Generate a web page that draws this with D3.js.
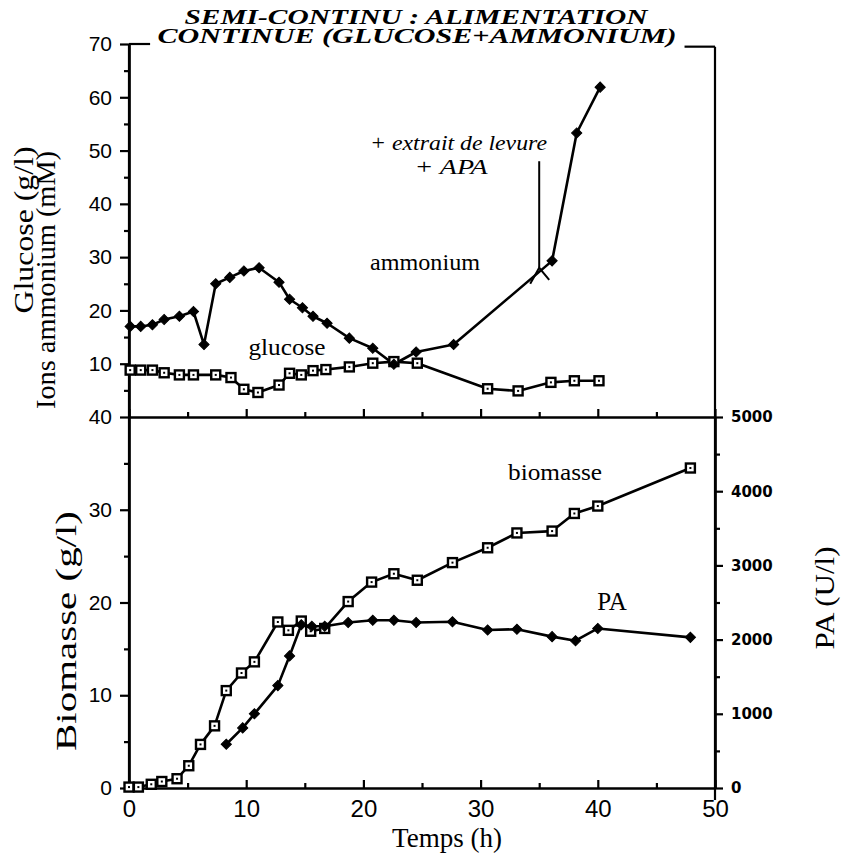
<!DOCTYPE html>
<html>
<head>
<meta charset="utf-8">
<script src="https://cdn.jsdelivr.net/npm/d3@7"></script>
<style>
  html, body { margin: 0; padding: 0; background: #fff; }
  svg { display: block; }
</style>
</head>
<body>
<svg id="chart" width="842" height="861"></svg>
<script>
// ---------------- DATA ----------------
const ammoniumHours = [0.1, 1, 2, 3, 4.3, 5.5, 6.4, 7.4, 8.6, 9.8, 11.1, 12.8, 13.7, 14.8, 15.7, 16.9, 18.8, 20.8, 22.6, 24.5, 27.7, 36.1, 38.2, 40.2];
const ammonium = [17, 17, 17.3, 18.3, 18.9, 19.8, 13.6, 25, 26.2, 27.4, 28, 25.3, 22.1, 20.5, 18.9, 17.6, 14.8, 12.9, 9.9, 12.2, 13.6, 29.3, 53.3, 61.9];

const glucoseHours = [0.1, 1, 2, 3, 4.3, 5.5, 7.4, 8.7, 9.8, 11, 12.8, 13.7, 14.7, 15.7, 16.8, 18.8, 20.8, 22.6, 24.6, 30.6, 33.2, 36, 38, 40.1];
const glucose = [8.8, 8.8, 8.8, 8.3, 7.9, 7.9, 7.9, 7.4, 5.2, 4.6, 6.0, 8.2, 7.9, 8.7, 8.9, 9.4, 10.1, 10.4, 10.1, 5.3, 4.9, 6.5, 6.8, 6.8];

const biomasseHours = [0, 0.8, 1.9, 2.8, 4.1, 5.1, 6.1, 7.3, 8.3, 9.6, 10.7, 12.7, 13.6, 14.7, 15.5, 16.7, 18.7, 20.7, 22.6, 24.6, 27.6, 30.6, 33.1, 36.1, 38, 40, 47.9];
const biomasse = [0.1, 0.1, 0.4, 0.7, 1.0, 2.4, 4.7, 6.7, 10.5, 12.4, 13.6, 17.9, 17.0, 18.0, 16.9, 17.2, 20.1, 22.2, 23.1, 22.4, 24.3, 25.9, 27.5, 27.7, 29.6, 30.4, 34.5];

const paHours = [8.3, 9.7, 10.7, 12.7, 13.7, 14.7, 15.6, 16.7, 18.7, 20.8, 22.6, 24.5, 27.6, 30.6, 33.1, 36.1, 38.1, 40, 47.9];
const pa = [590, 810, 1000, 1380, 1780, 2200, 2180, 2180, 2230, 2260, 2260, 2230, 2240, 2130, 2140, 2040, 1985, 2150, 2030];

const xTicks = [0, 10, 20, 30, 40, 50];
const topTicks = [10, 20, 30, 40, 50, 60, 70];
const bottomTicks = [0, 10, 20, 30, 40];
const paTicks = [0, 1000, 2000, 3000, 4000, 5000];

const titleLines = ["SEMI-CONTINU : ALIMENTATION", "CONTINUE (GLUCOSE+AMMONIUM)"];
const arrowAt = { hour: 35, from: 48, to: 28 };

// ---------------- SCALES ----------------
const svg = d3.select("#chart");
const x = d3.scaleLinear().domain([0, 50]).range([129, 715]);
const yTop = d3.scaleLinear().domain([0, 70]).range([417, 44]);
const yBot = d3.scaleLinear().domain([0, 40]).range([788, 417]);
const yPA = d3.scaleLinear().domain([0, 5000]).range([788, 417]);

const AX = 2.2;
function styleAxis(g, fontSize, family, weight) {
  g.selectAll("path.domain").attr("stroke", "#000").attr("stroke-width", AX);
  g.selectAll(".tick line").attr("stroke", "#000").attr("stroke-width", AX);
  g.selectAll(".tick text").attr("fill", "#000")
    .style("font-family", family).style("font-size", fontSize + "px")
    .style("font-weight", weight || "normal");
  g.attr("font-family", null).attr("font-size", null);
}
const SANS = '"Liberation Sans", Arial, sans-serif';
const SANS_B = '"DejaVu Sans", "Liberation Sans", sans-serif';

function minor(axis) { return axis.tickFormat("").tickSizeOuter(0); }

// left top axis
svg.append("g").attr("transform", `translate(${x(0)},0)`)
  .call(minor(d3.axisLeft(yTop).tickValues(d3.range(5, 70, 10)).tickSize(5)))
  .call(g => styleAxis(g, 20, SANS));
svg.append("g").attr("transform", `translate(${x(0)},0)`)
  .call(d3.axisLeft(yTop).tickValues(topTicks).tickSize(9).tickSizeOuter(0).tickPadding(8).tickFormat(d3.format("d")))
  .call(g => styleAxis(g, 21, SANS));

// left bottom axis
svg.append("g").attr("transform", `translate(${x(0)},0)`)
  .call(minor(d3.axisLeft(yBot).tickValues(d3.range(5, 40, 10)).tickSize(5)))
  .call(g => styleAxis(g, 20, SANS));
svg.append("g").attr("transform", `translate(${x(0)},0)`)
  .call(d3.axisLeft(yBot).tickValues(bottomTicks).tickSize(9).tickSizeOuter(0).tickPadding(8).tickFormat(d3.format("d")))
  .call(g => styleAxis(g, 21, SANS));

// right PA axis
svg.append("g").attr("transform", `translate(${x(50)},0)`)
  .call(minor(d3.axisRight(yPA).tickValues(d3.range(500, 5000, 1000)).tickSize(5)))
  .call(g => styleAxis(g, 15, SANS_B));
svg.append("g").attr("transform", `translate(${x(50)},0)`)
  .call(d3.axisRight(yPA).tickValues(paTicks).tickSize(8).tickSizeOuter(0).tickPadding(8).tickFormat(d3.format("d")))
  .call(g => styleAxis(g, 15, SANS_B, "bold"));

// middle x axis (ticks up into the top panel)
svg.append("g").attr("transform", `translate(0,${yTop(0)})`)
  .call(minor(d3.axisTop(x).tickValues(d3.range(5, 50, 10)).tickSize(5)))
  .call(g => styleAxis(g, 20, SANS));
svg.append("g").attr("transform", `translate(0,${yTop(0)})`)
  .call(d3.axisTop(x).tickValues(xTicks).tickSize(8).tickSizeOuter(0).tickFormat(""))
  .call(g => styleAxis(g, 20, SANS));

// bottom x axis (ticks up, labels below)
svg.append("g").attr("transform", `translate(0,${yBot(0)})`)
  .call(minor(d3.axisBottom(x).tickValues(d3.range(5, 50, 10)).tickSize(-5)))
  .call(g => styleAxis(g, 20, SANS));
svg.append("g").attr("transform", `translate(0,${yBot(0)})`)
  .call(d3.axisBottom(x).tickValues(xTicks).tickSize(-8).tickSizeOuter(0).tickPadding(12).tickFormat(d3.format("d")))
  .call(g => styleAxis(g, 24, SANS));

// frame: top line segments & right border
const frame = svg.append("g").attr("stroke", "#000").attr("stroke-width", AX).attr("fill", "none");
frame.append("line").attr("x1", x(0)).attr("x2", x(1.8)).attr("y1", yTop(70)).attr("y2", yTop(70));
frame.append("line").attr("x1", x(47.4)).attr("x2", x(50)).attr("y1", yTop(69.5)).attr("y2", yTop(69.5));
frame.append("line").attr("x1", x(50)).attr("x2", x(50)).attr("y1", yTop(69.5)).attr("y2", yBot(0) + 12);
frame.append("line").attr("x1", x(0)).attr("x2", x(0)).attr("y1", yTop(70)).attr("y2", yBot(0) + 3);

// ---------------- SERIES ----------------
function zip(hs, vs) { return hs.map((h, i) => [h, vs[i]]); }
const lineTop = d3.line().x(d => x(d[0])).y(d => yTop(d[1]));
const lineBot = d3.line().x(d => x(d[0])).y(d => yBot(d[1]));
const linePA = d3.line().x(d => x(d[0])).y(d => yPA(d[1]));

const LW = 2.6;
function drawLine(data, gen) {
  svg.append("path").datum(data).attr("d", gen)
    .attr("fill", "none").attr("stroke", "#000").attr("stroke-width", LW).attr("stroke-linejoin", "round");
}
function drawSquares(data, ys) {
  const g = svg.append("g");
  const s = g.selectAll("g").data(data).join("g")
    .attr("transform", d => `translate(${x(d[0])},${ys(d[1])})`);
  s.append("rect").attr("x", -4.5).attr("y", -4.5).attr("width", 9).attr("height", 9)
    .attr("fill", "#fff").attr("stroke", "#000").attr("stroke-width", 2.4);
  s.append("rect").attr("x", -1).attr("y", -1).attr("width", 2).attr("height", 2).attr("fill", "#000");
}
function drawDiamonds(data, ys) {
  svg.append("g").selectAll("path").data(data).join("path")
    .attr("transform", d => `translate(${x(d[0])},${ys(d[1])}) rotate(45)`)
    .attr("d", d3.symbol(d3.symbolSquare, 52)())
    .attr("fill", "#000").attr("stroke", "#000").attr("stroke-width", 1);
}

const ammData = zip(ammoniumHours, ammonium);
const gluData = zip(glucoseHours, glucose);
const bioData = zip(biomasseHours, biomasse);
const paData = zip(paHours, pa);

drawLine(gluData, lineTop);
drawLine(ammData, lineTop);
drawSquares(gluData, yTop);
drawDiamonds(ammData, yTop);

drawLine(bioData, lineBot);
drawLine(paData, linePA);
drawSquares(bioData, yBot);
drawDiamonds(paData, yPA);

// arrow annotation
const ar = svg.append("g").attr("stroke", "#000").attr("stroke-width", 2).attr("fill", "none");
ar.append("line").attr("x1", x(arrowAt.hour)).attr("x2", x(arrowAt.hour))
  .attr("y1", yTop(arrowAt.from)).attr("y2", yTop(arrowAt.to));
ar.append("path").attr("d", d3.line()([
  [x(arrowAt.hour) - 9, yTop(arrowAt.to) + 16],
  [x(arrowAt.hour), yTop(arrowAt.to)],
  [x(arrowAt.hour) + 10, yTop(arrowAt.to) + 12]
]));

// ---------------- TEXT ----------------
function txt(t, px, py, size, opts = {}) {
  const el = svg.append("text").text(t)
    .attr("x", px).attr("y", py)
    .attr("text-anchor", opts.anchor || "middle")
    .style("font-family", opts.family || '"Liberation Serif", "Times New Roman", serif')
    .style("font-size", size + "px")
    .style("font-style", opts.italic ? "italic" : "normal")
    .style("font-weight", opts.bold ? "bold" : "normal")
    .attr("fill", "#000");
  if (opts.len) el.attr("textLength", opts.len).attr("lengthAdjust", "spacingAndGlyphs");
  if (opts.rotate) el.attr("transform", `rotate(${opts.rotate},${px},${py})`);
  return el;
}

// title
txt(titleLines[0], 416, 24, 22, { italic: true, bold: true, len: 463 });
txt(titleLines[1], 417, 43, 22, { italic: true, bold: true, len: 519 });

// axis titles
txt("Glucose (g/l)", 33, 230, 28, { rotate: -90, len: 167 });
txt("Ions ammonium (mM)", 55, 280, 27, { rotate: -90, len: 258 });
txt("Biomasse (g/l)", 76, 631, 29, { rotate: -90, len: 240 });
txt("PA (U/l)", 834, 598, 27, { rotate: -90, len: 103 });
txt("Temps (h)", 447, 847, 28, { len: 110 });

// series labels
txt("ammonium", 425, 270, 24, { len: 110 });
txt("glucose", 287, 355, 24, { len: 77 });
txt("biomasse", 555, 480, 24, { len: 94 });
txt("PA", 612, 610, 25);
txt("+ extrait de levure", 370, 150, 21, { anchor: "start", italic: true, len: 177 });
txt("+ APA", 451, 174, 21, { italic: true, len: 73 });
</script>
</body>
</html>
